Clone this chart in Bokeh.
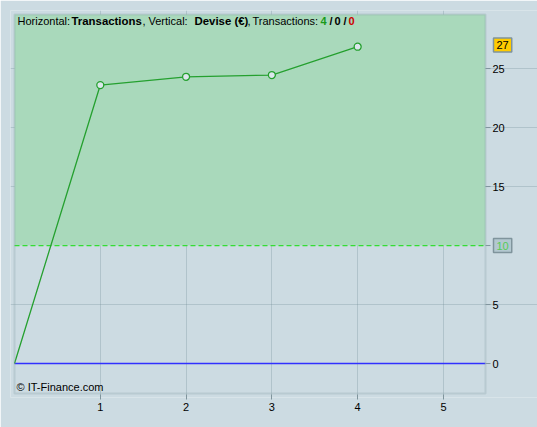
from bokeh.plotting import figure
from bokeh.models import ColumnDataSource, BoxAnnotation, FixedTicker
from bokeh.core.properties import value
from bokeh.embed import file_html
from bokeh.resources import INLINE

# Data
transactions = [0, 1, 2, 3, 4]
devise = [0, 23.6, 24.3, 24.45, 26.85]
x_ticks = [1, 2, 3, 4, 5]
y_ticks = [0, 5, 15, 20, 25]
y_tick_labels = ["0", "5", "15", "20", "25"]
threshold = 10
last_value = 27
x_min, x_max = 0, 5.49
y_min, y_max = -2.54, 29.58

BG = "#ccdbe2"
GREEN_AREA = "#a9d9bb"
LINE_GREEN = "#25a02f"
BORDER = "#8aa2aa"
TICK = "#7f949c"
FONT = "Liberation Sans"

PX_X = 85.8   # pixels per x unit
PX_Y = 11.8   # pixels per y unit
# frame is a little larger than the plot area so that its border and badges are not clipped
x_view = (x_min - 4 / PX_X, x_max + 52 / PX_X)
y_view = (y_min - 4 / PX_Y, y_max + 4 / PX_Y)

p = figure(width=537, height=427, output_backend="svg", toolbar_location=None,
           x_range=x_view, y_range=y_view, y_axis_location=None,
           min_border_left=10, min_border_top=10, min_border_bottom=30, min_border_right=0)
p.background_fill_color = BG
p.border_fill_color = BG
p.outline_line_color = None

# Green zone above threshold
p.add_layout(BoxAnnotation(bottom=threshold, top=y_max, left=x_min, right=x_max,
                           fill_color=GREEN_AREA, fill_alpha=1.0, line_color=None,
                           level="underlay"))

# Grid
p.xgrid.ticker = FixedTicker(ticks=x_ticks)
p.xgrid.bounds = (y_min, y_max)
p.ygrid.ticker = FixedTicker(ticks=[5, 15, 20, 25])
p.ygrid.bounds = (x_min, x_max)
p.grid.grid_line_color = "#6f8a94"
p.grid.grid_line_alpha = 0.3

# Bottom axis
ax = p.xaxis[0]
ax.ticker = FixedTicker(ticks=x_ticks)
ax.axis_line_color = None
ax.minor_tick_line_color = None
ax.major_tick_in = 3
ax.major_tick_out = 2
ax.major_tick_line_color = TICK
ax.major_label_text_font = FONT
ax.major_label_text_font_size = "11px"
ax.major_label_text_color = "#000000"
ax.major_label_standoff = 3

# Reference lines
p.line(x=[x_min, x_max], y=[threshold, threshold],
       line_color="#33dd33", line_dash="5 3", line_width=1.3)
p.line(x=[x_min, x_max], y=[0, 0], line_color="#3030ff", line_width=1.5)

# Data line
src = ColumnDataSource(dict(x=transactions, y=devise))
p.line("x", "y", source=src, line_color=LINE_GREEN, line_width=1.3)
p.scatter("x", "y", source=ColumnDataSource(dict(x=transactions[1:], y=devise[1:])),
          size=7, fill_color="#dce6ec", line_color=LINE_GREEN, line_width=1.3)

# Plot area border
p.add_layout(BoxAnnotation(left=x_min, right=x_max, bottom=y_min, top=y_max,
                           fill_alpha=0, line_color=BORDER, line_width=2, level="overlay"))

# Right value scale
ysrc = ColumnDataSource(dict(x=[x_max] * len(y_ticks), y=y_ticks, t=y_tick_labels))
p.ray("x", "y", source=ysrc, length=5, length_units="screen", angle=0,
      line_color=TICK, line_width=1)
p.ray(x=[x_max], y=[threshold], length=5, length_units="screen", angle=0,
      line_color=TICK, line_width=1)
p.text("x", "y", text="t", source=ysrc, x_offset=7, text_baseline="middle",
       text_align="left", text_font=value(FONT), text_font_size="11px", text_color="#000000")

# Badges
p.text(x=[x_max], y=[threshold], text=[str(threshold)], x_offset=8, text_baseline="middle",
       text_align="left", text_font=value(FONT), text_font_size="11px", text_color="#55cc55",
       background_fill_color="#b3c8d0", border_line_color=TICK, border_line_width=1.5,
       padding=3)
p.text(x=[x_max], y=[last_value], text=[str(last_value)], x_offset=8, text_baseline="middle",
       text_align="left", text_font=value(FONT), text_font_size="11px", text_color="#000000",
       background_fill_color="#ffcc00", border_line_color=TICK, border_line_width=1.5,
       padding=3)

# Title text inside plot
parts = ["Horizontal:", "Transactions", ",", "Vertical:", "Devise (\u20ac)", ",", "Transactions:",
         "4", "/", "0", "/", "0"]
offs = [3, 57, 128, 134, 180, 233, 238, 306, 315, 320, 329, 334]
styles = ["normal", "bold", "normal", "normal", "bold", "normal", "normal",
          "bold", "bold", "bold", "bold", "bold"]
sizes = ["11px", "11.4px", "11px", "11px", "11.4px", "11px", "11px",
         "11px", "11px", "11px", "11px", "11px"]
colors = ["#000000"] * 7 + ["#1a9a1a", "#000000", "#000000", "#000000", "#cc0000"]
tsrc = ColumnDataSource(dict(x=[x_min] * len(parts), y=[29.0] * len(parts), text=parts,
                             xo=offs, st=styles, c=colors, fs=sizes))
p.text("x", "y", text="text", source=tsrc, x_offset="xo", text_font_style="st",
       text_color="c", text_font=value(FONT), text_font_size="fs",
       text_baseline="middle", text_align="left")

p.text(x=[x_min], y=[-1.95], text=["\u00a9 IT-Finance.com"], x_offset=2,
       text_font=value(FONT), text_font_size="11px",
       text_baseline="middle", text_align="left", text_color="#000000")

html = file_html(p, INLINE)
open("out.html", "w").write(html)
